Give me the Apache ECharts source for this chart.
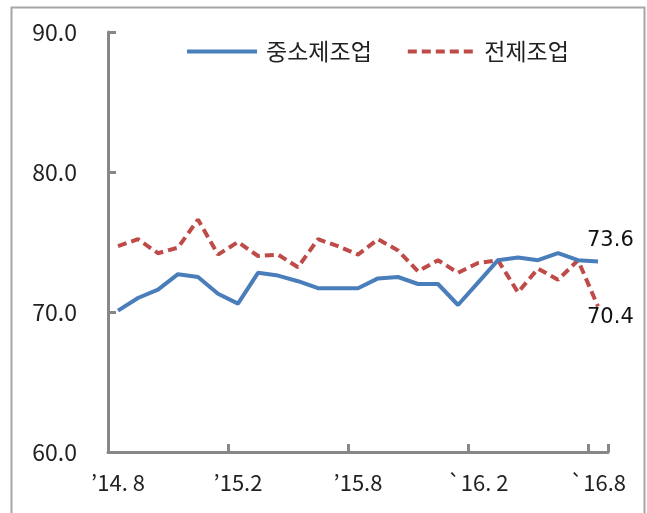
<!DOCTYPE html>
<html>
<head>
<meta charset="utf-8">
<script src="https://cdn.jsdelivr.net/npm/echarts@6/dist/echarts.min.js"></script>
<style>
html,body{margin:0;padding:0;background:#fff;}
#chart{width:647px;height:513px;}
</style>
</head>
<body>
<div id="chart"></div>
<script>
const categories = ["’14. 8","’14.9","’14.10","’14.11","’14.12","’15.1","’15.2","’15.3","’15.4","’15.5","’15.6","’15.7","’15.8","’15.9","’15.10","’15.11","’15.12","`16.1","`16. 2","`16.3","`16.4","`16.5","`16.6","`16.7","`16.8"];
const smeManufacturing = [70.1, 71.0, 71.6, 72.7, 72.5, 71.3, 70.6, 72.8, 72.6, 72.2, 71.7, 71.7, 71.7, 72.4, 72.5, 72.0, 72.0, 70.5, 72.1, 73.7, 73.9, 73.7, 74.2, 73.7, 73.6];
const allManufacturing = [74.7, 75.2, 74.2, 74.6, 76.6, 74.1, 75.0, 74.0, 74.1, 73.2, 75.2, 74.7, 74.1, 75.2, 74.4, 72.9, 73.7, 72.8, 73.5, 73.7, 71.4, 73.1, 72.3, 73.7, 70.4];
const seriesNames = ["중소제조업", "전제조업"];
const yTicks = [60, 70, 80, 90];

const chart = echarts.init(document.getElementById('chart'), null, {renderer: 'canvas'});
const axisColor = '#878787';
const labelFont = "'Noto Sans CJK KR', sans-serif";
const blue = '#4a7ebb', red = '#be4b48';

function endLabel(offset) {
  return {
    show: true, distance: 5, offset: offset,
    formatter: p => Number(p.value).toFixed(1),
    fontFamily: "'DejaVu Sans', sans-serif", fontSize: 21, color: '#111'
  };
}

const dashPath = 'path://M0,0h9v4h-9z M14,0h9v4h-9z M28,0h9v4h-9z M42,0h9v4h-9z M56,0h9v4h-9z';

chart.setOption({
  animation: false,
  backgroundColor: '#ffffff',
  graphic: [{
    type: 'rect',
    left: 9, top: 5,
    shape: {width: 633, height: 530},
    style: {fill: 'none', stroke: '#a6a6a6', lineWidth: 2},
    silent: true
  }],
  grid: {left: 108, right: 39, top: 32, bottom: 61, containLabel: false},
  legend: {
    left: 182, top: 35,
    itemWidth: 70, itemHeight: 4, itemGap: 36,
    data: [
      {name: seriesNames[0], icon: 'rect', itemStyle: {color: blue}},
      {name: seriesNames[1], icon: dashPath, itemStyle: {color: red}}
    ],
    textStyle: {fontFamily: labelFont, fontSize: 23, color: '#222', padding: [0,0,0,4]}
  },
  xAxis: {
    type: 'category',
    data: categories,
    boundaryGap: true,
    axisLine: {lineStyle: {color: axisColor, width: 3}},
    axisTick: {show: true, inside: true, length: 8, interval: 5, lineStyle: {color: axisColor, width: 3}},
    axisLabel: {interval: 5, margin: 20, fontFamily: labelFont, fontSize: 22, color: '#222'},
    splitLine: {show: false}
  },
  yAxis: {
    type: 'value',
    min: yTicks[0], max: yTicks[yTicks.length-1], interval: 10,
    axisLine: {show: true, lineStyle: {color: axisColor, width: 3}},
    axisTick: {show: true, inside: true, length: 8, lineStyle: {color: axisColor, width: 3}},
    axisLabel: {margin: 31, fontFamily: labelFont, fontSize: 23, color: '#222', formatter: v => v.toFixed(1)},
    splitLine: {show: false}
  },
  series: [
    {
      name: seriesNames[0], type: 'line', data: smeManufacturing,
      symbol: 'none', lineStyle: {color: blue, width: 4}, itemStyle: {color: blue}, z: 3,
      endLabel: endLabel([-16, -21])
    },
    {
      name: seriesNames[1], type: 'line', data: allManufacturing,
      symbol: 'none', lineStyle: {color: red, width: 4, type: [9, 5]}, itemStyle: {color: red}, z: 2,
      endLabel: endLabel([-16, 11])
    }
  ]
});
</script>
</body>
</html>
